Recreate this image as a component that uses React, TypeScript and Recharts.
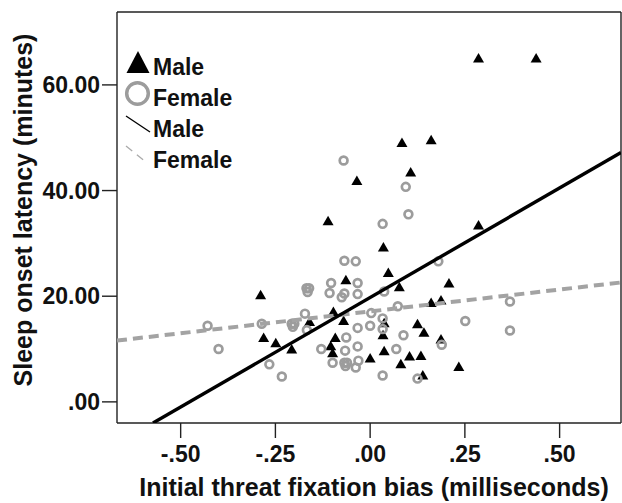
import {
  ScatterChart,
  Scatter,
  XAxis,
  YAxis,
  ReferenceLine,
} from "recharts";

// Male participants (triangles)
const maleX = [
  0.286, 0.438, 0.084, 0.161, 0.107, -0.035, -0.111, 0.286, 0.035, 0.048,
  -0.064, 0.077, 0.208, -0.289, 0.161, 0.187, -0.097, -0.07, -0.16, 0.037,
  -0.281, -0.249, -0.207, -0.092, -0.104, -0.099, 0.125, 0.142, 0.187, 0.037,
  0.0, 0.104, 0.134, 0.081, 0.234, 0.139, 0.034,
];
const maleY = [
  65.1, 65.1, 49.1, 49.6, 43.5, 41.9, 34.3, 33.5, 29.3, 24.5,
  23.1, 21.8, 22.5, 20.3, 18.8, 19.3, 17.1, 15.4, 15.2, 15.0,
  12.2, 11.2, 10.0, 12.2, 10.6, 9.3, 14.8, 13.2, 11.9, 9.7,
  8.3, 8.7, 8.8, 7.2, 6.7, 5.1, 12.7,
];

// Female participants (rings)
const femaleX = [
  -0.07, 0.094, 0.101, 0.033, -0.068, -0.038, 0.18, -0.168, -0.161, -0.165,
  -0.103, -0.033, -0.107, -0.068, -0.075, -0.033, 0.037, 0.073, -0.172, 0.003,
  0.369, -0.429, -0.286, -0.207, -0.2, -0.204, -0.167, 0.251, 0.369, 0.033,
  0.033, 0.0, -0.033, -0.063, 0.088, 0.189, -0.4, -0.129, -0.066, -0.033,
  0.069, -0.266, -0.099, -0.068, -0.061, -0.065, -0.031, -0.038, -0.233, 0.033,
  0.125,
];
const femaleY = [
  45.7, 40.7, 35.5, 33.7, 26.7, 26.6, 26.6, 21.5, 21.5, 20.8,
  22.5, 22.5, 20.6, 20.5, 19.8, 20.4, 20.9, 18.1, 16.7, 16.8,
  19.0, 14.4, 14.8, 14.8, 14.8, 14.2, 13.6, 15.3, 13.5, 15.8,
  13.8, 14.4, 14.0, 12.2, 12.6, 10.8, 10.0, 10.0, 9.7, 10.5,
  10.0, 7.1, 7.4, 7.4, 7.4, 6.8, 7.8, 6.5, 4.8, 5.0,
  4.4,
];

// fit line end points
const maleFitX = [-0.573, 0.662];
const maleFitY = [-4.0, 47.2];
const femaleFitX = [-0.668, 0.662];
const femaleFitY = [11.6, 22.6];

const xDomain = [-0.668, 0.662];
const yDomain = [-4, 73.8];
const xTicks = [-0.5, -0.25, 0, 0.25, 0.5];
const xTickLabels = ["-.50", "-.25", ".00", ".25", ".50"];
const yTicks = [0, 20, 40, 60];
const yTickLabels = [".00", "20.00", "40.00", "60.00"];

const toPoints = (xs: number[], ys: number[]) =>
  xs.map((x, i) => ({ x, y: ys[i] }));

const maleData = toPoints(maleX, maleY);
const femaleData = toPoints(femaleX, femaleY);
const maleFit = toPoints(maleFitX, maleFitY);
const femaleFit = toPoints(femaleFitX, femaleFitY);

const FONT = "'Liberation Sans', Arial, sans-serif";
const GRAY = "#9c9c9c";

const Triangle = (props: any) => {
  const { cx, cy } = props;
  if (cx == null || cy == null) return <g />;
  return (
    <polygon
      points={`${cx},${cy - 5} ${cx + 5.5},${cy + 4.5} ${cx - 5.5},${cy + 4.5}`}
      fill="#000"
    />
  );
};

const Ring = (props: any) => {
  const { cx, cy } = props;
  if (cx == null || cy == null) return <g />;
  return <circle cx={cx} cy={cy} r={3.9} fill="none" stroke={GRAY} strokeWidth={2.7} />;
};

const NoDot = () => <g />;

const tickStyle = {
  fontFamily: FONT,
  fontSize: 23,
  fontWeight: "bold" as const,
  fill: "#111",
};

export default function App() {
  return (
    <div style={{ position: "absolute", left: 0, top: 0, width: 622, height: 503, background: "#fff" }}>
      <ScatterChart
        width={622}
        height={503}
        margin={{ top: 12, right: 1, bottom: 0, left: 0 }}
      >
        <XAxis
          type="number"
          dataKey="x"
          domain={xDomain}
          allowDataOverflow
          ticks={xTicks}
          tickFormatter={(v: number) => xTickLabels[xTicks.indexOf(v)] ?? ""}
          tickSize={15}
          tickMargin={8}
          height={80}
          stroke="#222"
          strokeWidth={1.4}
          tick={tickStyle}
          label={{
            content: () => (
              <text
                x={374}
                y={496}
                textAnchor="middle"
                style={{ fontFamily: FONT, fontSize: 25, fontWeight: "bold", fill: "#111" }}
              >
                Initial threat fixation bias (milliseconds)
              </text>
            ),
          }}
        />
        <YAxis
          type="number"
          dataKey="y"
          domain={yDomain}
          allowDataOverflow
          ticks={yTicks}
          tickFormatter={(v: number) => yTickLabels[yTicks.indexOf(v)] ?? ""}
          tickSize={15}
          tickMargin={2}
          width={117}
          stroke="#222"
          strokeWidth={1.4}
          tick={tickStyle}
          label={{
            content: () => (
              <text
                x={23}
                y={210}
                textAnchor="middle"
                dominantBaseline="central"
                transform="rotate(-90 23 210)"
                style={{ fontFamily: FONT, fontSize: 25, fontWeight: "bold", fill: "#111" }}
              >
                Sleep onset latency (minutes)
              </text>
            ),
          }}
        />
        {/* top and right edges of the plot frame */}
        <ReferenceLine y={yDomain[1]} stroke="#222" strokeWidth={1.4} ifOverflow="visible" />
        <ReferenceLine x={xDomain[1]} stroke="#222" strokeWidth={1.4} ifOverflow="visible" />
        <Scatter data={maleData} shape={Triangle} isAnimationActive={false} />
        <Scatter data={femaleData} shape={Ring} isAnimationActive={false} />
        <Scatter
          data={femaleFit}
          shape={NoDot}
          line={{ stroke: "#a3a3a3", strokeWidth: 4, strokeDasharray: "10 6" }}
          isAnimationActive={false}
        />
        <Scatter
          data={maleFit}
          shape={NoDot}
          line={{ stroke: "#000", strokeWidth: 3.4 }}
          isAnimationActive={false}
        />
      </ScatterChart>

      <svg
        width={622}
        height={503}
        style={{ position: "absolute", left: 0, top: 0, pointerEvents: "none" }}
      >
        <g style={{ fontFamily: FONT, fontSize: 23, fontWeight: "bold" }} fill="#111">
          <polygon points="138,51 149.5,73 126.5,73" fill="#000" />
          <text x={153} y={75}>Male</text>
          <circle cx={137.5} cy={93.5} r={10.8} fill="none" stroke={GRAY} strokeWidth={3.5} />
          <text x={153} y={106}>Female</text>
          <line x1={126} y1={116} x2={150} y2={132} stroke="#000" strokeWidth={1.3} />
          <text x={153} y={137}>Male</text>
          <line x1={126} y1={146} x2={147} y2={163} stroke="#aaa" strokeWidth={1.3} strokeDasharray="8 6" />
          <text x={153} y={168}>Female</text>
        </g>
      </svg>
    </div>
  );
}
